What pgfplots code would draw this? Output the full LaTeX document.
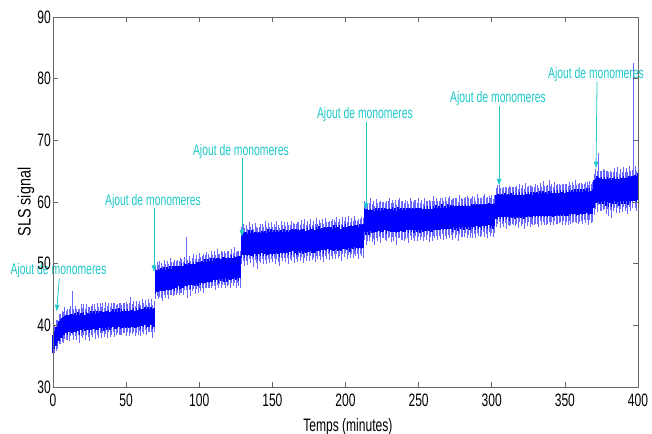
\documentclass[border=0pt]{standalone}
\usepackage{pgfplots}
\usepackage{pgfplotstable}
\pgfplotsset{compat=1.18}
\usetikzlibrary{arrows.meta}
\usepackage{fontspec}
\setmainfont{Liberation Sans}[FakeStretch=0.67]
\newfontfamily\ylabfont{Liberation Sans}[FakeStretch=0.8]
\definecolor{anncol}{RGB}{30,200,200}
\definecolor{sigblue}{RGB}{0,0,255}
\definecolor{sighalo}{RGB}{105,105,255}

\pgfplotstableread{
x c h u d
0 37.0 1.5 2.0 2.0
1 37.6 1.5 2.4 2.1
2 38.2 1.6 2.6 2.3
3 38.7 1.5 2.2 2.5
4 39.1 1.6 2.8 2.2
5 39.5 1.5 2.4 2.6
6 39.6 1.6 2.7 2.3
7 39.9 1.4 2.3 2.8
8 40.0 1.5 2.9 2.2
9 40.2 1.4 2.2 2.5
10 40.1 1.6 2.6 2.4
11 40.3 1.3 2.4 2.9
12 40.4 1.5 2.8 2.2
13 40.3 1.5 5.2 1.8
14 40.3 1.4 2.3 2.6
15 40.5 1.5 2.7 2.3
16 40.2 1.4 2.4 2.5
17 40.6 1.5 2.1 2.2
18 40.1 1.6 2.5 3.0
19 40.6 1.4 2.9 2.3
20 40.5 1.5 2.3 2.6
21 40.8 1.4 2.6 2.4
22 40.4 1.3 2.2 2.7
23 40.7 1.5 2.8 2.2
24 40.6 1.4 2.4 2.5
25 40.3 1.6 2.6 2.9
26 40.8 1.5 2.3 2.3
27 40.7 1.3 2.7 2.6
28 40.9 1.5 2.5 2.2
29 40.5 1.4 2.2 2.7
30 40.8 1.5 2.9 2.4
31 40.6 1.4 2.4 2.6
32 41.0 1.4 2.6 2.3
33 40.7 1.6 2.3 2.8
34 40.9 1.3 2.7 2.2
35 40.6 1.5 2.2 2.5
36 41.0 1.4 2.8 2.4
37 40.8 1.6 2.4 2.9
38 41.1 1.4 2.5 2.2
39 40.7 1.5 2.3 2.6
40 40.9 1.4 2.7 2.4
41 41.2 1.5 2.4 2.3
42 40.8 1.4 2.9 2.7
43 41.0 1.6 2.3 2.5
44 40.9 1.3 2.6 2.2
45 41.3 1.5 2.4 2.8
46 40.8 1.4 2.8 2.4
47 41.1 1.6 2.2 2.6
48 41.0 1.4 2.6 2.3
49 41.2 1.5 2.4 2.5
50 40.9 1.4 2.9 2.6
51 41.2 1.5 2.3 2.3
52 41.0 1.4 2.6 2.8
53 41.0 1.5 3.6 2.2
54 41.1 1.4 2.4 2.5
55 41.3 1.5 2.7 2.3
56 40.9 1.4 2.3 2.7
57 41.2 1.6 2.8 2.4
58 41.1 1.4 2.4 2.6
59 41.4 1.5 2.6 2.3
60 41.0 1.6 2.3 2.8
61 41.3 1.4 2.9 2.4
62 41.2 1.5 2.4 2.6
63 41.5 1.4 2.6 2.2
64 41.1 1.5 2.2 2.7
65 41.4 1.6 2.8 2.5
66 41.2 1.4 2.4 2.3
67 41.5 1.5 2.7 2.6
68 41.0 1.6 2.3 3.1
69 41.3 1.5 2.6 2.4
70 47.0 1.9 2.6 2.8
71 47.2 1.8 3.0 2.5
72 47.3 1.9 2.5 3.1
73 47.2 1.7 3.3 2.6
74 47.4 1.9 2.7 2.9
75 47.3 1.8 2.4 3.3
76 47.5 2.0 3.1 2.5
77 47.3 1.7 2.6 2.9
78 47.6 1.9 2.9 2.6
79 47.4 1.8 2.5 3.2
80 47.7 1.9 3.2 2.7
81 47.5 1.7 2.7 2.5
82 47.8 1.9 2.4 3.0
83 47.6 2.0 3.0 2.6
84 47.9 1.8 2.6 2.9
85 47.7 1.9 2.9 2.4
86 48.0 1.7 2.5 3.1
87 47.8 1.9 3.1 2.6
88 48.1 2.0 2.7 2.8
89 47.9 1.8 2.4 3.0
90 48.2 1.9 2.9 2.5
91 48.2 1.8 6.2 2.4
92 48.0 1.8 2.6 3.5
93 48.3 1.8 3.0 2.6
94 47.9 2.0 2.5 3.2
95 48.2 1.7 2.8 2.7
96 48.4 1.9 3.2 2.5
97 48.1 1.8 2.6 3.0
98 48.5 1.8 2.9 2.6
99 48.3 2.0 2.4 3.1
100 48.6 1.7 3.1 2.5
101 48.4 1.9 2.7 2.9
102 48.7 1.8 2.5 2.6
103 48.5 1.8 3.0 3.2
104 48.8 2.0 2.6 2.7
105 48.6 1.7 3.3 2.5
106 48.9 1.8 2.7 2.9
107 48.7 1.8 2.4 2.6
108 49.0 2.0 3.0 3.0
109 48.8 1.7 2.6 2.5
110 49.1 1.8 2.9 2.8
111 48.9 1.9 2.5 3.1
112 49.2 1.8 3.2 2.6
113 48.9 2.0 2.7 2.9
114 49.2 1.7 2.4 2.5
115 49.0 1.8 3.0 3.0
116 49.3 1.8 2.6 2.7
117 49.1 2.0 2.9 2.5
118 49.3 1.7 2.5 3.2
119 49.0 1.9 3.1 2.6
120 49.3 1.8 2.7 2.8
121 49.1 1.8 2.4 3.0
122 49.4 2.0 3.0 2.5
123 49.2 1.7 2.6 2.9
124 49.4 1.8 3.3 2.6
125 49.2 1.9 2.7 3.1
126 49.5 1.8 2.5 2.7
127 49.2 2.0 2.9 2.9
128 49.4 1.8 2.6 3.3
129 53.0 2.0 2.9 3.1
130 53.2 1.8 3.3 2.7
131 53.1 2.1 2.7 3.4
132 53.3 1.9 3.0 2.8
133 53.0 1.8 2.6 3.2
134 53.4 2.0 3.4 2.7
135 53.1 1.8 2.8 3.0
136 53.3 2.1 3.1 2.6
137 53.0 1.9 2.7 3.5
138 53.4 1.8 3.2 2.8
139 53.2 2.0 2.8 3.1
140 52.8 2.1 3.0 3.6
141 53.3 1.8 2.6 2.9
142 53.1 1.9 3.3 3.0
143 53.5 1.8 2.9 2.7
144 53.2 2.0 2.7 3.3
145 53.4 1.9 3.5 2.8
146 53.1 1.8 2.8 3.1
147 53.5 2.1 3.1 2.7
148 53.3 1.8 2.6 3.2
149 53.6 2.0 3.2 2.8
150 53.2 1.9 2.8 3.0
151 53.5 2.0 3.0 2.6
152 53.3 1.8 2.7 3.4
153 53.6 1.9 3.3 2.9
154 53.4 1.8 2.9 3.1
155 53.2 2.1 2.6 3.5
156 53.6 1.9 3.4 2.7
157 53.4 1.8 2.8 3.0
158 53.7 2.0 3.1 2.8
159 53.4 1.8 2.7 3.2
160 53.6 1.9 3.2 2.7
161 53.3 1.9 2.9 3.3
162 53.7 1.8 2.6 2.9
163 53.5 2.1 3.4 3.0
164 53.8 1.8 2.8 2.7
165 53.5 1.9 3.0 3.4
166 53.7 1.9 2.7 2.9
167 53.4 2.0 3.3 3.1
168 53.8 1.8 2.9 2.7
169 53.6 1.9 2.6 3.2
170 53.9 1.8 3.2 2.8
171 53.6 2.1 2.8 3.5
172 53.8 1.9 3.5 2.9
173 53.5 1.8 2.7 3.0
174 53.9 2.0 3.0 2.7
175 53.7 1.8 2.8 3.3
176 54.0 1.9 3.3 2.8
177 53.7 1.9 2.6 3.1
178 53.9 2.1 3.1 2.9
179 53.6 1.8 2.9 3.4
180 54.0 1.9 3.4 2.7
181 53.8 1.8 2.7 3.0
182 54.1 2.0 3.0 2.8
183 53.8 1.9 2.8 3.2
184 54.0 1.8 3.2 2.9
185 53.7 2.1 2.7 3.5
186 54.1 1.9 3.3 2.8
187 53.9 1.9 2.9 3.1
188 54.2 1.8 2.6 2.7
189 53.9 2.0 3.1 3.3
190 54.1 1.9 2.8 2.9
191 53.8 1.8 3.4 3.0
192 54.2 2.1 2.9 2.7
193 54.0 1.8 2.7 3.2
194 54.3 1.9 3.2 2.8
195 54.0 1.9 2.8 3.1
196 54.2 2.0 3.0 2.9
197 53.9 1.8 2.6 3.4
198 54.3 1.9 3.3 2.8
199 54.1 1.8 2.9 3.0
200 54.4 2.0 3.1 2.7
201 54.1 1.9 2.7 3.3
202 54.3 1.8 3.4 2.9
203 54.0 2.1 2.8 3.1
204 54.4 1.9 3.0 2.8
205 54.2 1.9 2.7 3.2
206 54.5 1.8 3.2 2.9
207 54.2 2.0 2.9 3.0
208 54.4 1.9 2.6 2.8
209 54.1 1.8 3.1 3.4
210 54.5 2.0 2.8 2.9
211 54.3 1.9 3.3 3.0
212 54.5 1.9 2.9 3.6
213 57.1 2.0 3.0 3.2
214 56.8 2.1 3.3 3.7
215 57.0 1.8 2.8 3.4
216 56.7 2.0 3.1 3.0
217 57.1 1.8 3.5 2.8
218 56.8 1.9 2.9 3.3
219 57.0 1.9 3.2 3.0
220 56.7 1.8 2.7 3.6
221 57.1 2.0 3.4 2.9
222 56.9 1.8 3.0 3.2
223 57.2 1.9 2.8 2.8
224 56.8 1.8 3.3 3.4
225 57.1 2.0 2.9 3.0
226 56.9 1.8 3.1 2.7
227 57.2 1.8 2.7 3.3
228 56.8 2.0 3.4 3.1
229 57.1 1.8 3.0 2.9
230 57.2 1.9 3.5 2.8
231 57.0 1.8 2.8 3.5
232 57.2 2.0 3.2 2.9
233 56.9 1.8 2.9 3.2
234 57.1 1.9 3.3 2.8
235 56.8 1.8 2.7 3.7
236 57.2 2.0 3.1 3.0
237 57.0 1.8 3.6 2.8
238 57.2 1.9 2.9 3.3
239 56.9 1.8 3.2 3.0
240 57.1 2.0 2.8 3.4
241 56.9 1.8 3.4 2.9
242 57.2 1.8 3.0 3.1
243 57.0 2.1 2.7 3.6
244 57.3 1.8 3.3 2.8
245 57.0 1.9 3.1 3.2
246 57.2 1.8 2.8 3.0
247 56.9 2.0 3.5 3.3
248 57.3 1.8 3.0 2.8
249 57.1 1.9 2.8 3.5
250 57.3 1.8 3.3 3.0
251 57.0 2.0 2.9 3.2
252 57.2 1.8 3.2 2.9
253 57.0 1.8 2.7 3.4
254 57.3 2.0 3.4 3.0
255 57.1 1.8 3.0 3.2
256 57.4 1.9 2.8 2.8
257 57.1 1.8 3.3 3.6
258 57.3 2.1 2.9 3.0
259 57.0 1.8 3.1 3.3
260 57.4 1.9 3.5 2.9
261 57.3 1.8 2.8 3.1
262 57.5 2.0 3.2 3.0
263 57.2 1.8 3.0 3.4
264 57.4 1.9 2.7 2.9
265 57.2 1.8 3.4 3.2
266 57.6 2.0 3.0 2.8
267 57.3 1.8 2.8 3.5
268 57.5 1.9 3.3 3.0
269 57.2 1.8 2.9 3.2
270 57.6 2.0 3.1 2.9
271 57.4 1.8 3.6 3.3
272 57.6 1.9 2.8 3.0
273 57.3 2.1 3.2 3.4
274 57.7 1.8 2.9 2.8
275 57.4 1.9 3.3 3.2
276 57.6 1.8 3.0 3.0
277 57.3 2.0 2.7 3.6
278 57.7 1.8 3.4 2.9
279 57.5 1.9 3.1 3.1
280 57.7 1.8 2.8 3.3
281 57.4 2.0 3.2 3.0
282 57.8 1.8 3.0 2.8
283 57.5 1.9 3.5 3.4
284 57.7 1.8 2.9 3.0
285 57.4 2.0 3.1 3.2
286 57.8 1.8 2.8 2.9
287 57.6 1.9 3.3 3.5
288 57.8 1.8 3.0 3.0
289 57.5 2.0 2.7 3.3
290 57.9 1.8 3.4 2.9
291 57.6 1.9 3.1 3.1
292 57.8 1.8 2.9 3.4
293 57.5 2.0 3.2 3.0
294 57.9 1.8 3.0 2.8
295 57.7 1.9 3.6 3.3
296 57.9 1.8 2.8 3.1
297 57.6 2.0 3.2 3.5
298 58.0 1.8 3.0 2.9
299 57.7 1.9 2.9 3.2
300 57.9 1.8 3.3 3.0
301 57.7 2.0 2.8 3.4
302 58.0 1.9 3.1 3.0
303 59.2 2.0 3.0 3.3
304 59.4 2.1 3.3 3.0
305 59.4 1.9 3.4 2.6
306 59.2 2.0 3.1 3.4
307 59.4 1.9 2.9 3.0
308 59.1 2.1 3.4 3.2
309 59.5 1.9 3.0 2.9
310 59.2 2.0 3.2 3.5
311 59.4 1.9 2.8 3.1
312 59.1 2.1 3.5 3.0
313 59.5 1.9 3.0 3.3
314 59.3 1.9 3.2 2.9
315 59.6 2.0 2.9 3.4
316 59.2 1.9 3.3 3.1
317 59.5 2.0 3.1 3.0
318 59.3 1.9 2.8 3.5
319 59.6 2.1 3.4 2.9
320 59.3 1.9 3.0 3.2
321 59.5 2.0 3.2 3.0
322 59.2 1.9 2.9 3.6
323 59.6 2.0 3.5 3.0
324 59.4 1.9 3.1 3.3
325 59.7 2.0 2.9 2.9
326 59.4 1.9 3.3 3.4
327 59.6 2.1 3.0 3.1
328 59.3 1.9 3.2 3.0
329 59.7 2.0 2.8 3.5
330 59.5 1.9 3.4 3.0
331 59.7 2.0 3.1 3.2
332 59.4 1.9 2.9 3.4
333 59.8 2.0 3.3 2.9
334 59.5 1.9 3.0 3.3
335 59.8 2.0 3.6 3.0
336 59.5 1.9 3.1 3.2
337 59.7 2.0 2.9 3.5
338 59.4 1.9 3.3 3.0
339 59.8 2.0 3.7 3.1
340 59.6 1.9 3.0 3.4
341 59.8 2.0 3.2 3.0
342 59.5 1.9 2.9 3.3
343 59.9 2.1 3.4 3.0
344 59.6 1.9 3.1 3.2
345 59.9 2.0 3.0 3.5
346 59.6 1.9 3.3 3.0
347 59.9 2.0 2.9 3.2
348 59.7 1.9 3.2 3.4
349 60.0 2.0 3.0 3.0
350 59.6 1.9 3.4 3.3
351 59.9 2.1 3.1 3.1
352 59.7 1.9 2.9 3.5
353 60.0 2.0 3.3 3.0
354 59.7 1.9 3.0 3.2
355 60.0 2.0 3.2 3.4
356 59.8 1.9 2.9 3.0
357 60.1 2.0 3.5 3.3
358 59.7 1.9 3.1 3.1
359 60.0 2.1 3.0 3.5
360 59.8 1.9 3.3 3.0
361 60.1 2.0 3.0 3.2
362 59.8 1.9 3.2 3.4
363 60.1 2.0 2.9 3.0
364 59.9 1.9 3.4 3.3
365 60.2 2.0 3.1 3.1
366 59.8 1.9 3.0 3.5
367 60.1 2.1 3.3 3.0
368 59.9 1.9 3.0 3.3
369 60.1 2.0 3.2 3.4
370 61.3 2.2 3.2 3.4
371 61.8 2.0 3.5 3.0
372 62.0 2.2 3.1 3.6
373 62.0 2.0 6.0 2.5
374 61.8 2.1 3.3 3.2
375 62.0 2.0 3.0 3.5
376 61.7 2.1 3.6 3.0
377 62.1 2.0 3.1 3.3
378 61.6 2.2 3.4 3.6
379 62.0 2.0 3.0 3.1
380 61.5 2.3 3.3 3.8
381 61.9 2.0 3.2 3.2
382 61.4 2.2 3.5 4.0
383 61.8 2.1 3.0 3.3
384 62.1 2.0 3.4 3.1
385 61.7 2.1 3.1 3.5
386 62.0 2.0 3.6 3.0
387 61.6 2.2 3.0 3.4
388 62.1 2.0 3.3 3.2
389 61.8 2.1 3.1 3.5
390 62.2 2.0 3.5 3.0
391 61.8 2.1 3.0 3.3
392 62.1 2.0 3.4 3.1
393 61.7 2.2 3.1 3.6
394 62.2 2.0 3.6 3.0
395 61.9 2.1 3.2 3.3
396 62.2 2.0 3.0 3.1
397 62.2 2.0 20.3 2.0
398 62.3 2.1 3.5 3.2
399 62.0 2.2 3.1 3.4
400 62.5 2.2 3.6 3.0
}\sls

\begin{document}
\begin{tikzpicture}
\begin{axis}[
  name=ax,
  scale only axis,
  width=585bp, height=370bp,
  xmin=0, xmax=400, ymin=30, ymax=90,
  xtick={0,50,...,400},
  ytick={30,40,...,90},
  tick align=inside,
  major tick length=5bp,
  axis line style={black!60, line width=0.7pt},
  tick style={black!60, line width=0.7pt},
  tick label style={font=\fontsize{18bp}{20bp}\selectfont, inner sep=1bp},
  /pgf/number format/assume math mode=true,
  xticklabel style={yshift=-6bp},
  yticklabel style={xshift=-1bp},
  xlabel={Temps (minutes)},
  ylabel={SLS signal},
  xlabel style={font=\fontsize{18bp}{20bp}\selectfont, at={(axis description cs:0.504,-0.119)}, anchor=base, inner sep=0pt},
  ylabel style={font=\ylabfont\fontsize{18bp}{20bp}\selectfont, at={(axis description cs:-0.046,0.5)}, anchor=center, inner sep=0pt},
  clip=false,
  axis on top,
]
\addplot[draw=none, mark=none, forget plot,
  error bars/.cd, y dir=both, y explicit, error mark=none,
  error bar style={draw=sighalo, line width=0.55pt}]
  table[x=x, y=c, y error plus=u, y error minus=d] {\sls};
\addplot[draw=none, mark=none,
  error bars/.cd, y dir=both, y explicit, error mark=none,
  error bar style={draw=sigblue, line width=1.5pt}]
  table[x=x, y=c, y error=h] {\sls};

\begin{scope}[every node/.style={font=\fontsize{15.5bp}{17bp}\selectfont, text=anncol, anchor=base, inner sep=0pt}]
\node at (axis cs:3.8,48.3) {Ajout de monomeres};
\node at (axis cs:68.4,59.5) {Ajout de monomeres};
\node at (axis cs:128.5,67.6) {Ajout de monomeres};
\node at (axis cs:213.3,73.5) {Ajout de monomeres};
\node at (axis cs:304.3,76.1) {Ajout de monomeres};
\node at (axis cs:371.3,80.1) {Ajout de monomeres};
\end{scope}
\begin{scope}[anncol, line width=0.8pt, -{Latex[length=7bp,width=5bp]}]
\draw (axis cs:4.3,47.6) -- (axis cs:2.5,42.2);
\draw (axis cs:69,59.0) -- (axis cs:69,48.6);
\draw (axis cs:129.2,67.1) -- (axis cs:129.2,54.3);
\draw (axis cs:214,73.0) -- (axis cs:214,58.7);
\draw (axis cs:305,75.6) -- (axis cs:305,62.6);
\draw (axis cs:372,79.6) -- (axis cs:371.3,65.4);
\end{scope}
\end{axis}
\pgfresetboundingbox
\path[use as bounding box] (ax.south west) ++(-53bp,-47bp) rectangle ++(652bp,434bp);
\end{tikzpicture}
\end{document}
